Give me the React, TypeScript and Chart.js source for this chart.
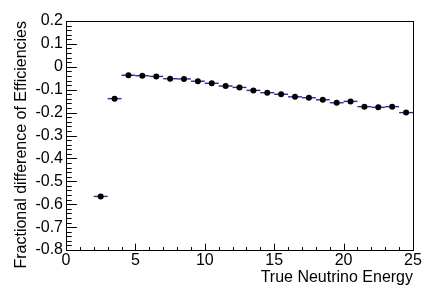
import React, { useEffect, useRef } from "react";
import { Chart, registerables } from "chart.js";

Chart.register(...registerables);

// ---- data ----
const binCenters = [
  2.5, 3.5, 4.5, 5.5, 6.5, 7.5, 8.5, 9.5, 10.5, 11.5, 12.5, 13.5,
  14.5, 15.5, 16.5, 17.5, 18.5, 19.5, 20.5, 21.5, 22.5, 23.5, 24.5,
];
const fracDiff = [
  -0.566, -0.139, -0.037, -0.039, -0.042, -0.052, -0.053, -0.063, -0.072,
  -0.084, -0.09, -0.103, -0.113, -0.12, -0.131, -0.135, -0.144, -0.157,
  -0.151, -0.174, -0.177, -0.174, -0.2,
];
const binHalfWidth = 0.5;

const xTickValues = [0, 5, 10, 15, 20, 25];
const xTickLabels = ["0", "5", "10", "15", "20", "25"];
const yTickValues = [-0.8, -0.7, -0.6, -0.5, -0.4, -0.3, -0.2, -0.1, 0, 0.1, 0.2];
const yTickLabels = ["-0.8", "-0.7", "-0.6", "-0.5", "-0.4", "-0.3", "-0.2", "-0.1", "0", "0.1", "0.2"];

const xTitle = "True Neutrino Energy";
const yTitle = "Fractional difference of Efficiencies";

const X_MIN = 0, X_MAX = 25, X_MINOR = 1;
const Y_MIN = -0.8, Y_MAX = 0.2, Y_MINOR = 0.02;

const BAR_COLOR = "#2c2ca0";
const FONT = "'Liberation Sans', Arial, Helvetica, sans-serif";

const rootStyle = {
  id: "rootStyle",
  beforeDatasetsDraw(chart: any) {
    const { ctx, scales } = chart;
    const x = scales.x, y = scales.y;
    ctx.save();
    ctx.strokeStyle = BAR_COLOR;
    ctx.lineWidth = 1.4;
    binCenters.forEach((c, i) => {
      const py = y.getPixelForValue(fracDiff[i]);
      ctx.beginPath();
      ctx.moveTo(x.getPixelForValue(c - binHalfWidth), py);
      ctx.lineTo(x.getPixelForValue(c + binHalfWidth), py);
      ctx.stroke();
    });
    ctx.restore();
  },
  afterDraw(chart: any) {
    const { ctx, chartArea: a, scales } = chart;
    const x = scales.x, y = scales.y;
    const L = Math.round(a.left) + 0.5;
    const R = Math.round(a.right) + 0.5;
    const T = Math.round(a.top) + 0.5;
    const B = Math.round(a.bottom) + 0.5;
    ctx.save();
    ctx.strokeStyle = "#000";
    ctx.lineWidth = 1;
    ctx.strokeRect(L, T, R - L, B - T);
    const w = a.right - a.left;
    const h = a.bottom - a.top;
    const yMajorLen = 0.03 * w;
    const xMajorLen = 0.03 * h;
    ctx.beginPath();
    // y ticks (inside, from left axis)
    const ny = Math.round((Y_MAX - Y_MIN) / Y_MINOR);
    for (let k = 0; k <= ny; k++) {
      const v = Y_MIN + k * Y_MINOR;
      const major = k % 5 === 0;
      const py = Math.round(y.getPixelForValue(v)) + 0.5;
      ctx.moveTo(L, py);
      ctx.lineTo(L + (major ? yMajorLen : yMajorLen / 2), py);
    }
    // x ticks (inside, from bottom axis)
    const nx = Math.round((X_MAX - X_MIN) / X_MINOR);
    for (let k = 0; k <= nx; k++) {
      const v = X_MIN + k * X_MINOR;
      const major = k % 5 === 0;
      const px = Math.round(x.getPixelForValue(v)) + 0.5;
      ctx.moveTo(px, B);
      ctx.lineTo(px, B - (major ? xMajorLen : xMajorLen / 2));
    }
    ctx.stroke();
    ctx.restore();
  },
};

export default function App() {
  const canvasRef = useRef<HTMLCanvasElement | null>(null);

  useEffect(() => {
    const canvas = canvasRef.current;
    if (!canvas) return;
    Chart.defaults.font.family = FONT;
    Chart.defaults.color = "#000";
    const chart = new Chart(canvas, {
      type: "scatter",
      data: {
        datasets: [
          {
            data: binCenters.map((c, i) => ({ x: c, y: fracDiff[i] })),
            pointRadius: 3,
            pointHoverRadius: 3,
            pointBackgroundColor: "#000",
            pointBorderColor: "#000",
            pointBorderWidth: 0,
            showLine: false,
          },
        ],
      },
      options: {
        responsive: false,
        animation: false,
        events: [],
        layout: { padding: { top: 21, right: 23, left: 0, bottom: 0 } },
        plugins: {
          legend: { display: false },
          tooltip: { enabled: false },
        },
        scales: {
          x: {
            type: "linear",
            min: X_MIN,
            max: X_MAX,
            grid: { display: false, drawTicks: false },
            border: { display: false },
            afterBuildTicks: (s: any) => {
              s.ticks = xTickValues.map((v) => ({ value: v }));
            },
            afterFit: (s: any) => {
              s.height = 45;
            },
            ticks: {
              autoSkip: false,
              maxRotation: 0,
              padding: 1,
              font: { size: 16, family: FONT },
              color: "#000",
              callback: (_v: any, i: number) => xTickLabels[i],
            },
            title: {
              display: true,
              text: xTitle,
              align: "end",
              color: "#000",
              font: { size: 16, family: FONT },
              padding: { top: 0, bottom: 8 },
            },
          },
          y: {
            type: "linear",
            min: Y_MIN,
            max: Y_MAX,
            grid: { display: false, drawTicks: false },
            border: { display: false },
            afterBuildTicks: (s: any) => {
              s.ticks = yTickValues.map((v) => ({ value: v }));
            },
            afterFit: (s: any) => {
              s.width = 66;
            },
            ticks: {
              autoSkip: false,
              padding: 3,
              font: { size: 16, family: FONT },
              color: "#000",
              callback: (_v: any, i: number) => yTickLabels[i],
            },
            title: {
              display: true,
              text: yTitle,
              align: "end",
              color: "#000",
              font: { size: 16, family: FONT },
              padding: { top: 11.5, bottom: 0 },
            },
          },
        },
      },
      plugins: [rootStyle],
    });
    return () => chart.destroy();
  }, []);

  return (
    <div style={{ position: "absolute", left: 0, top: 0, width: 436, height: 295, background: "#fff" }}>
      <canvas ref={canvasRef} width={436} height={295} style={{ width: 436, height: 295 }} />
    </div>
  );
}
